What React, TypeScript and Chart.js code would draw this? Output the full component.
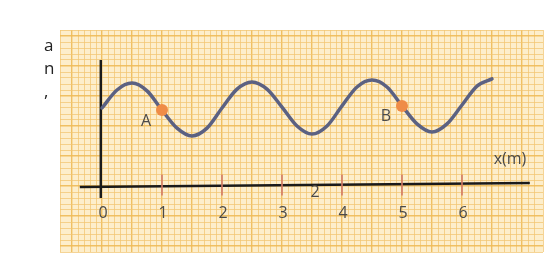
import React, { useEffect, useRef } from "react";
import { Chart, registerables } from "chart.js";

Chart.register(...registerables);

// Wave samples (x in metres, y in grid squares above the x-axis)
const waveX = [0, 0.25, 0.5, 0.75, 1, 1.25, 1.5, 1.75, 2, 2.25, 2.5, 2.75, 3, 3.25, 3.5, 3.75, 4, 4.25, 4.5, 4.75, 5, 5.25, 5.5, 5.75, 6, 6.25, 6.5];
const waveY = [2.6, 3.2, 3.43, 3.17, 2.53, 1.93, 1.67, 1.93, 2.6, 3.23, 3.47, 3.23, 2.63, 2.0, 1.73, 2.0, 2.67, 3.3, 3.53, 3.3, 2.67, 2.07, 1.8, 2.07, 2.7, 3.33, 3.57];

// Marked points
const pointNames = ["A", "B"];
const pointX = [1, 5];
const pointY = [2.53, 2.67];

// Axes (drawn as lines)
const xAxisX = [-0.37, 7.13];
const xAxisY = [-0.03, 0.1];
const yAxisX = [-0.02, -0.02];
const yAxisY = [-0.4, 4.2];

// Tick labels
const tickValues = [0, 1, 2, 3, 4, 5, 6];
const tickLabels = ["0", "1", "2", "3", "4", "5", "6"];
const axisTitle = "x(m)";
const strayText = "2";
const sideText = ["a", "n", ","];

const PAPER = "#fdeecb";
const MINOR = "rgba(242,198,115,0.75)";
const MAJOR = "rgba(238,186,88,0.9)";

const isMajor = (v: number, step: number) => Math.abs(v / step - Math.round(v / step)) < 1e-6;

const decorPlugin = {
  id: "decor",
  beforeDraw(chart: any) {
    const { ctx, chartArea } = chart;
    ctx.save();
    ctx.fillStyle = PAPER;
    ctx.fillRect(chartArea.left, chartArea.top, chartArea.right - chartArea.left, chartArea.bottom - chartArea.top);
    ctx.restore();
  },
  afterDatasetsDraw(chart: any) {
    const { ctx } = chart;
    const xs = chart.scales.x;
    const ys = chart.scales.y;
    ctx.save();
    // red tick marks
    ctx.strokeStyle = "#d27a68";
    ctx.lineWidth = 1.6;
    tickValues.forEach((v) => {
      if (v === 0) return;
      const px = xs.getPixelForValue(v);
      ctx.beginPath();
      ctx.moveTo(px, ys.getPixelForValue(0.38));
      ctx.lineTo(px, ys.getPixelForValue(-0.32));
      ctx.stroke();
    });
    ctx.fillStyle = "#4a4a4a";
    ctx.font = '16px "Open Sans"';
    ctx.textAlign = "center";
    ctx.textBaseline = "middle";
    tickValues.forEach((v, i) => {
      ctx.fillText(tickLabels[i], xs.getPixelForValue(v) + 1, ys.getPixelForValue(-0.9));
    });
    ctx.fillText(axisTitle, xs.getPixelForValue(6.8), ys.getPixelForValue(0.87));
    ctx.fillText(strayText, xs.getPixelForValue(3.55), ys.getPixelForValue(-0.23));
    pointNames.forEach((n, i) => {
      const px = xs.getPixelForValue(pointX[i]);
      const py = ys.getPixelForValue(pointY[i]);
      ctx.fillText(n, px - 16, py + 11);
    });
    // fragments of a paragraph left of the figure
    ctx.fillStyle = "#222";
    ctx.font = '17px "Open Sans"';
    ctx.textAlign = "left";
    ctx.textBaseline = "alphabetic";
    sideText.forEach((t, i) => {
      ctx.fillText(t, 44, 51 + i * 23);
    });
    ctx.restore();
  },
};

export default function App() {
  const ref = useRef<HTMLCanvasElement>(null);
  useEffect(() => {
    if (!ref.current) return;
    const chart = new Chart(ref.current, {
      type: "line",
      data: {
        datasets: [
          {
            label: "points",
            data: pointX.map((x, i) => ({ x, y: pointY[i] })),
            showLine: false,
            pointRadius: 6,
            pointBackgroundColor: "#ef8c47",
            pointBorderWidth: 0,
            borderColor: "#ef8c47",
          },
          {
            label: "wave",
            data: waveX.map((x, i) => ({ x, y: waveY[i] })),
            borderColor: "#5b6182",
            borderWidth: 3.5,
            pointRadius: 0,
            cubicInterpolationMode: "monotone",
            borderCapStyle: "round",
          },
          {
            label: "xaxis",
            data: xAxisX.map((x, i) => ({ x, y: xAxisY[i] })),
            borderColor: "#1a1a1a",
            borderWidth: 2.5,
            pointRadius: 0,
            tension: 0,
          },
          {
            label: "yaxis",
            data: yAxisX.map((x, i) => ({ x, y: yAxisY[i] })),
            borderColor: "#1a1a1a",
            borderWidth: 2.5,
            pointRadius: 0,
            tension: 0,
          },
        ],
      },
      options: {
        animation: false,
        responsive: false,
        layout: { padding: { left: 60, top: 30, right: 14, bottom: 17 } },
        plugins: { legend: { display: false }, tooltip: { enabled: false } },
        scales: {
          x: {
            type: "linear",
            min: -0.7,
            max: 7.35,
            border: { display: false },
            ticks: { display: false, stepSize: 0.1, autoSkip: false },
            grid: {
              drawTicks: false,
              color: (c: any) => (isMajor(c.tick.value, 0.5) ? MAJOR : MINOR),
              lineWidth: (c: any) => (isMajor(c.tick.value, 0.5) ? 1.4 : 1),
            },
          },
          y: {
            type: "linear",
            min: -2.2,
            max: 5.2,
            border: { display: false },
            ticks: { display: false, stepSize: 0.2, autoSkip: false },
            grid: {
              drawTicks: false,
              color: (c: any) => (isMajor(c.tick.value, 1) ? MAJOR : MINOR),
              lineWidth: (c: any) => (isMajor(c.tick.value, 1) ? 1.4 : 1),
            },
          },
        },
      },
      plugins: [decorPlugin],
    });
    return () => chart.destroy();
  }, []);
  return (
    <div style={{ position: "absolute", left: 0, top: 0, width: 557, height: 269, background: "#fff" }}>
      <canvas ref={ref} width={557} height={269} />
    </div>
  );
}
